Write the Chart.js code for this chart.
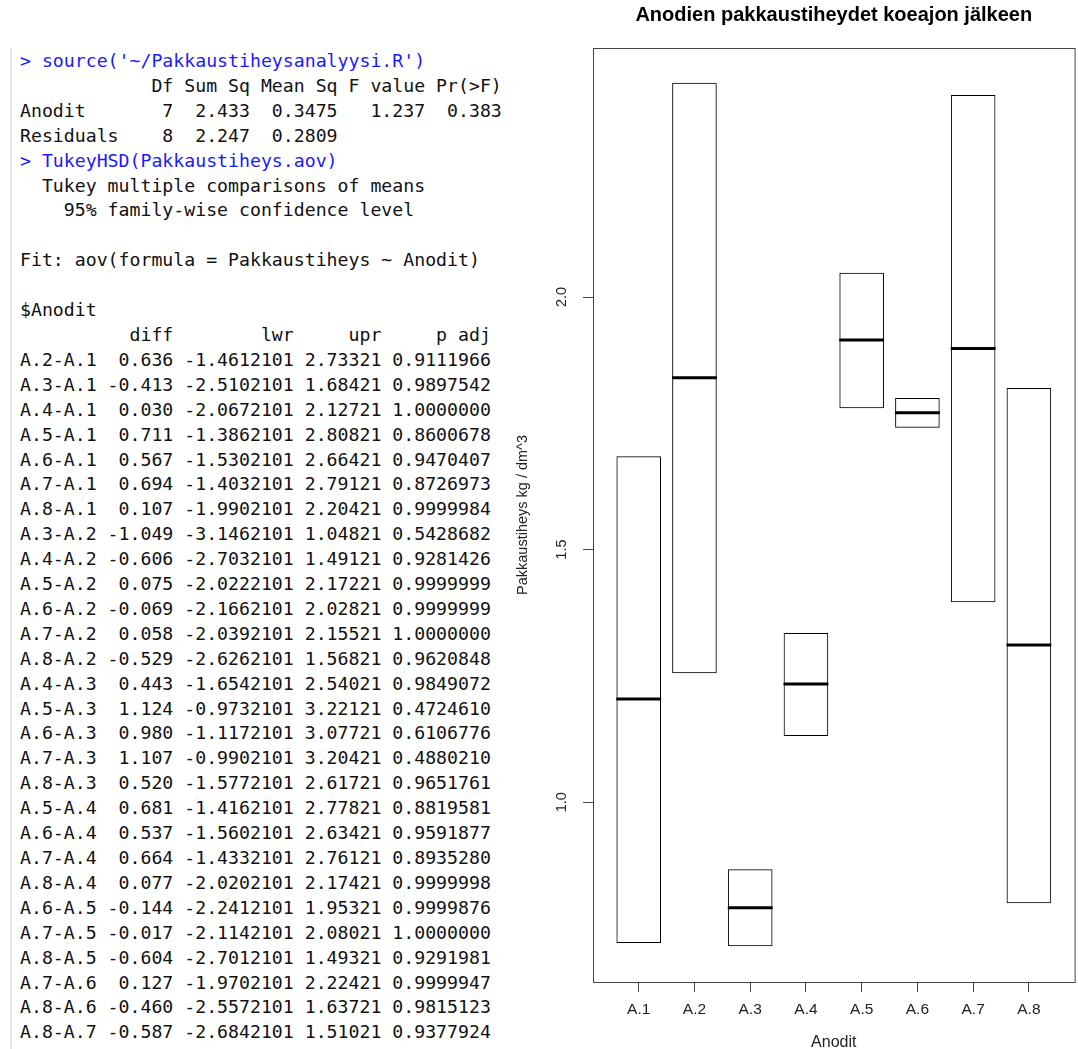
<!DOCTYPE html>
<html>
<head>
<meta charset="utf-8">
<script src="https://cdn.jsdelivr.net/npm/chart.js@4.4.1/dist/chart.umd.min.js"></script>
<style>
  html, body { margin: 0; padding: 0; background: #fff; overflow: hidden; }
  body { width: 1078px; height: 1049px; position: relative; }
  #gutter { position: absolute; left: 10px; top: 48px; width: 2px; height: 1001px; background: #e4e4e4; }
  #console {
    position: absolute; left: 20px; top: 49px; margin: 0;
    font-family: "DejaVu Sans Mono", monospace; font-size: 18.2px; line-height: 24.9px;
    color: #111; white-space: pre;
  }
  #console .cmd { color: #1a1aff; }
  #plot { position: absolute; left: 500px; top: 0; }
</style>
</head>
<body>
<div id="gutter"></div>
<pre id="console"><span class="cmd">&gt; source('~/Pakkaustiheysanalyysi.R')</span>
            Df Sum Sq Mean Sq F value Pr(&gt;F)
Anodit       7  2.433  0.3475   1.237  0.383
Residuals    8  2.247  0.2809
<span class="cmd">&gt; TukeyHSD(Pakkaustiheys.aov)</span>
  Tukey multiple comparisons of means
    95% family-wise confidence level

Fit: aov(formula = Pakkaustiheys ~ Anodit)

$Anodit
          diff        lwr     upr     p adj
A.2-A.1  0.636 -1.4612101 2.73321 0.9111966
A.3-A.1 -0.413 -2.5102101 1.68421 0.9897542
A.4-A.1  0.030 -2.0672101 2.12721 1.0000000
A.5-A.1  0.711 -1.3862101 2.80821 0.8600678
A.6-A.1  0.567 -1.5302101 2.66421 0.9470407
A.7-A.1  0.694 -1.4032101 2.79121 0.8726973
A.8-A.1  0.107 -1.9902101 2.20421 0.9999984
A.3-A.2 -1.049 -3.1462101 1.04821 0.5428682
A.4-A.2 -0.606 -2.7032101 1.49121 0.9281426
A.5-A.2  0.075 -2.0222101 2.17221 0.9999999
A.6-A.2 -0.069 -2.1662101 2.02821 0.9999999
A.7-A.2  0.058 -2.0392101 2.15521 1.0000000
A.8-A.2 -0.529 -2.6262101 1.56821 0.9620848
A.4-A.3  0.443 -1.6542101 2.54021 0.9849072
A.5-A.3  1.124 -0.9732101 3.22121 0.4724610
A.6-A.3  0.980 -1.1172101 3.07721 0.6106776
A.7-A.3  1.107 -0.9902101 3.20421 0.4880210
A.8-A.3  0.520 -1.5772101 2.61721 0.9651761
A.5-A.4  0.681 -1.4162101 2.77821 0.8819581
A.6-A.4  0.537 -1.5602101 2.63421 0.9591877
A.7-A.4  0.664 -1.4332101 2.76121 0.8935280
A.8-A.4  0.077 -2.0202101 2.17421 0.9999998
A.6-A.5 -0.144 -2.2412101 1.95321 0.9999876
A.7-A.5 -0.017 -2.1142101 2.08021 1.0000000
A.8-A.5 -0.604 -2.7012101 1.49321 0.9291981
A.7-A.6  0.127 -1.9702101 2.22421 0.9999947
A.8-A.6 -0.460 -2.5572101 1.63721 0.9815123
A.8-A.7 -0.587 -2.6842101 1.51021 0.9377924</pre>
<canvas id="plot" width="600" height="1052"></canvas>
<script>
// boxplot data (two observations per anode -> box = min..max, line = mean)
const categories = ["A.1", "A.2", "A.3", "A.4", "A.5", "A.6", "A.7", "A.8"];
const boxLow = [0.721, 1.255, 0.715, 1.131, 1.780, 1.741, 1.396, 0.800];
const boxHigh = [1.685, 2.424, 0.867, 1.335, 2.048, 1.800, 2.400, 1.820];
const medians = [1.204, 1.840, 0.791, 1.234, 1.915, 1.771, 1.898, 1.311];
const yTicks = [1.0, 1.5, 2.0];

const axisColor = "#444";
const font = "Liberation Sans, Arial";

// frame around the plot area, like R's box()
const frame = {
  id: "frame",
  afterDatasetsDraw(chart) {
    const a = chart.chartArea;
    const ctx = chart.ctx;
    ctx.save();
    ctx.strokeStyle = axisColor;
    ctx.lineWidth = 1;
    ctx.strokeRect(a.left + 0.5, a.top + 0.5, a.right - a.left, a.bottom - a.top);
    ctx.restore();
  },
};

new Chart(document.getElementById("plot").getContext("2d"), {
  type: "bar",
  data: {
    datasets: [
      {
        type: "bar",
        data: categories.map((c, i) => ({ x: i + 1, y: [boxLow[i], boxHigh[i]] })),
        backgroundColor: "rgba(255,255,255,0)",
        borderColor: "#000",
        borderWidth: 1,
        borderSkipped: false,
        barPercentage: 1,
        categoryPercentage: 0.8,
      },
      {
        type: "line",
        data: categories.map((c, i) => ({ x: i + 1, y: medians[i] })),
        showLine: false,
        pointStyle: "line",
        pointRadius: 22.4,
        pointHoverRadius: 22.4,
        pointBorderWidth: 3,
        pointBorderColor: "#000",
        borderColor: "#000",
      },
    ],
  },
  options: {
    responsive: false,
    animation: false,
    events: [],
    layout: { padding: { left: 0, right: 18, top: 0, bottom: 0 } },
    plugins: {
      legend: { display: false },
      tooltip: { enabled: false },
      title: {
        display: true,
        fullSize: false,
        text: "Anodien pakkaustiheydet koeajon jälkeen",
        color: "#000",
        font: { family: font, size: 20, weight: "bold" },
        padding: { top: 3, bottom: 21 },
      },
    },
    scales: {
      x: {
        type: "linear",
        offset: false,
        min: 0.18,
        max: 8.82,
        afterBuildTicks: (s) => { s.ticks = categories.map((c, i) => ({ value: i + 1 })); },
        afterFit: (s) => { s.height = 70; },
        grid: { offset: false, drawOnChartArea: false, drawTicks: true, tickLength: 10, color: axisColor },
        border: { display: false },
        ticks: {
          autoSkip: false,
          maxRotation: 0,
          padding: 8,
          color: "#222",
          font: { family: font, size: 15.5 },
          callback: (v) => categories[v - 1],
        },
        title: {
          display: true,
          text: "Anodit",
          color: "#222",
          font: { family: font, size: 16 },
          padding: { top: 0, bottom: 0 },
        },
      },
      y: {
        min: 0.644,
        max: 2.493,
        afterBuildTicks: (s) => { s.ticks = yTicks.map((v) => ({ value: v })); },
        afterFit: (s) => { s.width = 93; },
        grid: { drawOnChartArea: false, drawTicks: true, tickLength: 10, color: axisColor },
        border: { display: false },
        ticks: {
          minRotation: 90,
          maxRotation: 90,
          crossAlign: "center",
          padding: 11,
          color: "#222",
          font: { family: font, size: 14.5 },
          callback: (v) => v.toFixed(1),
        },
        title: {
          display: true,
          text: "Pakkaustiheys kg / dm^3",
          color: "#222",
          font: { family: font, size: 14.5 },
          padding: { top: 14, bottom: 0 },
        },
      },
    },
  },
  plugins: [frame],
});
</script>
</body>
</html>
